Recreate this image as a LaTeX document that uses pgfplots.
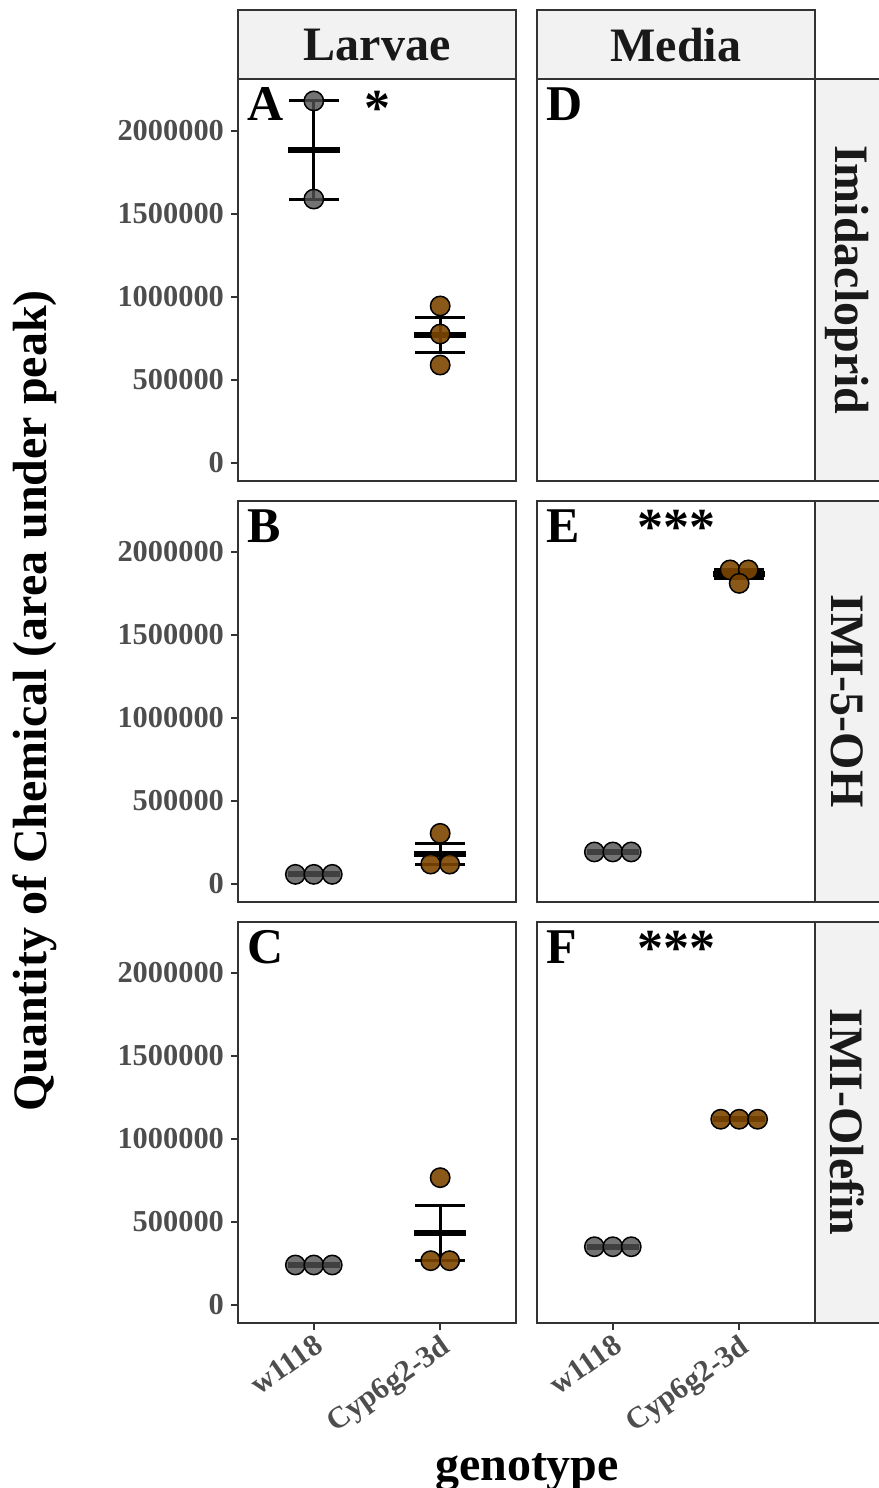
\documentclass[border=0pt]{standalone}
\usepackage{pgfplots}
\pgfplotsset{compat=1.18}
\usepackage{fontspec}
\setmainfont{Liberation Serif}
\definecolor{wgrey}{RGB}{80,80,80}
\definecolor{cbrown}{RGB}{125,70,0}
\definecolor{stripfill}{RGB}{242,242,242}
\definecolor{framec}{RGB}{51,51,51}
\definecolor{tickc}{RGB}{77,77,77}
\pgfplotsset{
  panel/.style={scale only axis, width=139pt, anchor=south west, clip=false,
    xmin=0.4, xmax=2.6, ymin=-108434,
    axis line style={draw=framec, line width=0.8pt},
    tick align=outside, major tick length=3.5pt,
    every tick/.style={draw=framec, line width=0.7pt},
    xtick pos=bottom, ytick pos=left,
    scaled y ticks=false,
    /pgf/number format/fixed, /pgf/number format/1000 sep={},
    /pgf/number format/assume math mode=true,
    yticklabel style={font=\bfseries\fontsize{15.2}{16}\selectfont, text=tickc},
    xticklabel style={font=\bfseries\fontsize{15.2}{16}\selectfont, text=tickc, rotate=35, anchor=north east, inner sep=1pt},
  },
  leftc/.style={ytick={0,500000,1000000,1500000,2000000}},
  rightc/.style={ytick=\empty},
  toprow/.style={height=201pt, ymax=2313300, xtick=\empty},
  midrow/.style={height=200.5pt, ymax=2307200, xtick=\empty},
  botrow/.style={height=200.5pt, ymax=2307200, xtick={1,2}, xticklabels={w1118,Cyp6g2-3d}},
  meanbar/.style={only marks, mark=-, mark size=13pt, mark options={line width=3pt, draw=black}},
  capbar/.style={only marks, mark=-, mark size=12.5pt, mark options={line width=1.5pt, draw=black}},
  whisk/.style={no marks, line width=1.5pt, black},
  wpts/.style={only marks, mark=*, mark size=4.85pt, mark options={draw=black, line width=0.75pt, fill=wgrey, fill opacity=0.8}},
  cpts/.style={only marks, mark=*, mark size=4.85pt, mark options={draw=black, line width=0.75pt, fill=cbrown, fill opacity=0.9}},
}
\newcommand{\plab}[1]{\node[anchor=north west, inner sep=0pt, font=\bfseries\fontsize{25}{25}\selectfont] at (rel axis cs:0,1) [xshift=4.5pt, yshift=-4pt] {#1};}
\newcommand{\stars}[2]{\node[anchor=north, inner sep=0pt, font=\bfseries\fontsize{26}{26}\selectfont] at (axis cs:1.5,#1) {#2};}
\begin{document}
\begin{tikzpicture}
\path[use as bounding box] (0,0) rectangle (439pt,744pt);
% strips
\draw[fill=stripfill, draw=framec, line width=0.8pt] (119pt,704.5pt) rectangle (258pt,739pt);
\draw[fill=stripfill, draw=framec, line width=0.8pt] (268.5pt,704.5pt) rectangle (407.5pt,739pt);
\node[font=\bfseries\fontsize{24}{24}\selectfont, text=black!90] at (188.5pt,721.5pt) {Larvae};
\node[font=\bfseries\fontsize{24}{24}\selectfont, text=black!90] at (338pt,721.5pt) {Media};
\draw[fill=stripfill, draw=framec, line width=0.8pt] (407.5pt,503.5pt) rectangle (441pt,704.5pt);
\draw[fill=stripfill, draw=framec, line width=0.8pt] (407.5pt,293pt) rectangle (441pt,493.5pt);
\draw[fill=stripfill, draw=framec, line width=0.8pt] (407.5pt,82.5pt) rectangle (441pt,283pt);
\node[rotate=-90, font=\bfseries\fontsize{24}{24}\selectfont, text=black!90] at (423.5pt,604pt) {Imidacloprid};
\node[rotate=-90, font=\bfseries\fontsize{24}{24}\selectfont, text=black!90] at (423.5pt,393.5pt) {IMI-5-OH};
\node[rotate=-90, font=\bfseries\fontsize{24}{24}\selectfont, text=black!90] at (423.5pt,183pt) {IMI-Olefin};
% titles
\node[rotate=90, font=\bfseries\fontsize{24}{24}\selectfont] at (17.5pt,393.5pt) {Quantity of Chemical (area under peak)};
\node[font=\bfseries\fontsize{24}{24}\selectfont] at (263.5pt,8pt) {genotype};

% A: Larvae / Imidacloprid
\begin{axis}[panel, toprow, leftc, at={(119pt,503.5pt)}]
\addplot[whisk] coordinates {(1,1590000) (1,2181000)};
\addplot[capbar] coordinates {(1,1590000) (1,2181000)};
\addplot[meanbar] coordinates {(1,1885500)};
\addplot[whisk] coordinates {(2,668000) (2,874000)};
\addplot[capbar] coordinates {(2,668000) (2,874000)};
\addplot[meanbar] coordinates {(2,771000)};
\addplot[wpts] coordinates {(1,2181000) (1,1590000)};
\addplot[cpts] coordinates {(2,946000) (2,777000) (2,590000)};
\plab{A}
\stars{2245000}{*}
\end{axis}
% D: Media / Imidacloprid
\begin{axis}[panel, toprow, rightc, at={(268.5pt,503.5pt)}]
\addplot[draw=none] coordinates {(1,0)};
\plab{D}
\end{axis}
% B: Larvae / IMI-5-OH
\begin{axis}[panel, midrow, leftc, at={(119pt,293pt)}]
\addplot[whisk] coordinates {(2,120000) (2,244000)};
\addplot[capbar] coordinates {(2,120000) (2,244000)};
\addplot[meanbar] coordinates {(2,182000)};
\addplot[meanbar] coordinates {(1,58000)};
\addplot[wpts] coordinates {(0.854,58000) (1,58000) (1.146,58000)};
\addplot[cpts] coordinates {(2,305000) (1.925,120000) (2.075,120000)};
\plab{B}
\end{axis}
% E: Media / IMI-5-OH
\begin{axis}[panel, midrow, rightc, at={(268.5pt,293pt)}]
\addplot[whisk] coordinates {(2,1838000) (2,1892000)};
\addplot[capbar] coordinates {(2,1838000) (2,1892000)};
\addplot[meanbar] coordinates {(2,1865000)};
\addplot[meanbar] coordinates {(1,193000)};
\addplot[wpts] coordinates {(0.854,193000) (1,193000) (1.146,193000)};
\addplot[cpts] coordinates {(1.928,1892000) (2.072,1892000) (2,1811000)};
\plab{E}
\stars{2255000}{***}
\end{axis}
% C: Larvae / IMI-Olefin
\begin{axis}[panel, botrow, leftc, at={(119pt,82.5pt)}]
\addplot[whisk] coordinates {(2,267000) (2,600000)};
\addplot[capbar] coordinates {(2,267000) (2,600000)};
\addplot[meanbar] coordinates {(2,433700)};
\addplot[meanbar] coordinates {(1,241000)};
\addplot[wpts] coordinates {(0.854,241000) (1,241000) (1.146,241000)};
\addplot[cpts] coordinates {(2,767000) (1.925,267000) (2.075,267000)};
\plab{C}
\end{axis}
% F: Media / IMI-Olefin
\begin{axis}[panel, botrow, rightc, at={(268.5pt,82.5pt)}]
\addplot[meanbar] coordinates {(1,351000)};
\addplot[meanbar] coordinates {(2,1119000)};
\addplot[wpts] coordinates {(0.854,351000) (1,351000) (1.146,351000)};
\addplot[cpts] coordinates {(1.854,1119000) (2,1119000) (2.146,1119000)};
\plab{F}
\stars{2255000}{***}
\end{axis}
\end{tikzpicture}
\end{document}
